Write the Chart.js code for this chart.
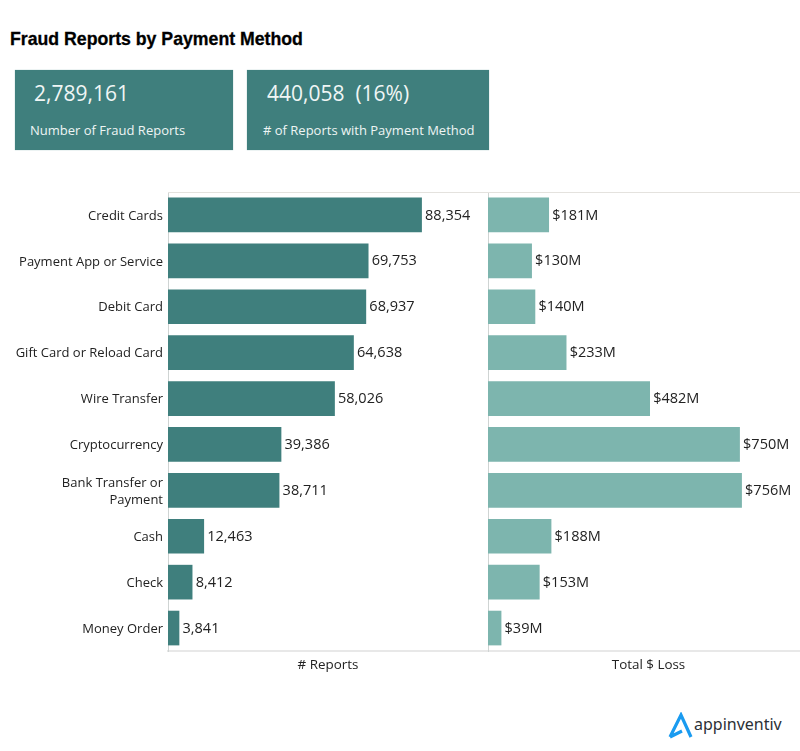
<!DOCTYPE html>
<html>
<head>
<meta charset="utf-8">
<title>Fraud Reports by Payment Method</title>
<script src="https://cdn.jsdelivr.net/npm/chart.js@4"></script>
<style>
  html, body { margin: 0; padding: 0; background: #fff; }
  #page { position: relative; width: 800px; height: 751px; overflow: hidden; font-family: "Open Sans", sans-serif; color: #222; }
  #title { position: absolute; left: 10px; top: 29px; font: bold 17.7px "Liberation Sans", sans-serif; -webkit-text-stroke: 0.3px #000; color: #000; white-space: nowrap; }
  .card { position: absolute; top: 70px; height: 80px; background: #3f7f7d; color: #fff; box-shadow: 0 0 1px #8fb8b5; }
  .card .num { position: absolute; top: 10px; font-size: 21px; line-height: 26px; white-space: pre; color: #f0f6f5; }
  .card .lbl { position: absolute; top: 51px; font-size: 13px; line-height: 18px; white-space: nowrap; color: #eef5f4; }
  .wrap { position: absolute; top: 0; height: 673px; }
  #logo { position: absolute; left: 668px; top: 712px; width: 26px; height: 27px; }
  #logoText { position: absolute; left: 694px; top: 713px; font: 16px "Noto Sans", sans-serif; color: #2b3036; }
</style>
</head>
<body>
<div id="page">
  <div id="title">Fraud Reports by Payment Method</div>
  <div class="card" style="left:15px;width:218px">
    <div class="num" style="left:19px">2,789,161</div>
    <div class="lbl" style="left:15px">Number of Fraud Reports</div>
  </div>
  <div class="card" style="left:247px;width:242px">
    <div class="num" style="left:20px">440,058  (16%)</div>
    <div class="lbl" style="left:16px"># of Reports with Payment Method</div>
  </div>
  <div class="wrap" style="left:0;width:488px"><canvas id="reportsChart"></canvas></div>
  <div class="wrap" style="left:480px;width:329px"><canvas id="lossChart"></canvas></div>
  <svg id="logo" viewBox="0 0 26 27">
    <path d="M2 25 L13 3 L23 25 M2 25 L14 19" fill="none" stroke="#1a9bf0" stroke-width="3.2" stroke-linejoin="miter"/>
  </svg>
  <div id="logoText">appinventiv</div>
</div>
<script>
var categories = ['Credit Cards', 'Payment App or Service', 'Debit Card', 'Gift Card or Reload Card', 'Wire Transfer',
    'Cryptocurrency', ['Bank Transfer or', 'Payment'], 'Cash', 'Check', 'Money Order'];
var reports = [88354, 69753, 68937, 64638, 58026, 39386, 38711, 12463, 8412, 3841];
var lossMillions = [181, 130, 140, 233, 482, 750, 756, 188, 153, 39];

var reportsAxisMax = 111500;
var lossAxisMax = 957;
var darkTeal = '#3f7f7d';
var lightTeal = '#7db5ae';
var labelFont = '"Open Sans", sans-serif';

// draws the value next to each bar plus the thin line along the top of the plot
var panelExtras = {
    id: 'panelExtras',
    afterDatasetsDraw: function(chart, args, opts) {
        var c = chart.ctx;
        var area = chart.chartArea;
        c.save();
        c.strokeStyle = '#e4e2de';
        c.lineWidth = 1;
        c.beginPath();
        c.moveTo(area.left, area.top + 0.5);
        c.lineTo(area.right, area.top + 0.5);
        c.stroke();

        c.font = '14.5px ' + labelFont;
        c.fillStyle = '#222';
        c.textBaseline = 'middle';
        c.textAlign = 'left';
        chart.getDatasetMeta(0).data.forEach(function(bar, i) {
            c.fillText(opts.format(chart.data.datasets[0].data[i]), bar.x + 3.5, bar.y + 0.5);
        });
        c.restore();
    }
};

function makePanel(canvasId, values, color, axisMax, axisTitle, format, labelWidth, showLabels) {
    return new Chart(document.getElementById(canvasId), {
        type: 'bar',
        data: {
            labels: categories,
            datasets: [{ data: values, backgroundColor: color, barThickness: 34 }]
        },
        plugins: [panelExtras],
        options: {
            indexAxis: 'y',
            responsive: true,
            maintainAspectRatio: false,
            animation: false,
            devicePixelRatio: 1,
            layout: { padding: { top: 192, left: 0, right: 0, bottom: 0 } },
            scales: {
                x: {
                    min: 0,
                    max: axisMax,
                    grid: { display: false },
                    ticks: { display: false },
                    border: { display: true, color: '#e8e8e8', width: 2 },
                    title: { display: true, text: axisTitle, color: '#222', font: { family: labelFont, size: 13.4 }, padding: 0 },
                    afterFit: function(axis) { axis.height = 22; }
                },
                y: {
                    grid: { display: false, drawTicks: false },
                    border: { display: true, color: '#cfd4d3', width: 1, dash: [2, 2] },
                    ticks: { display: showLabels, color: '#222', padding: 5, autoSkip: false, labelOffset: 1, font: { family: labelFont, size: 13, lineHeight: 1.3 } },
                    afterFit: function(axis) { axis.width = labelWidth; }
                }
            },
            plugins: {
                legend: { display: false },
                tooltip: { enabled: true },
                panelExtras: { format: format }
            }
        }
    });
}

var reportsPanel = makePanel('reportsChart', reports, darkTeal, reportsAxisMax, '# Reports', function(v) {
    return v.toLocaleString('en-US');
}, 168, true);

var lossPanel = makePanel('lossChart', lossMillions, lightTeal, lossAxisMax, 'Total $ Loss', function(v) {
    return '$' + v + 'M';
}, 8, false);
</script>
</body>
</html>
